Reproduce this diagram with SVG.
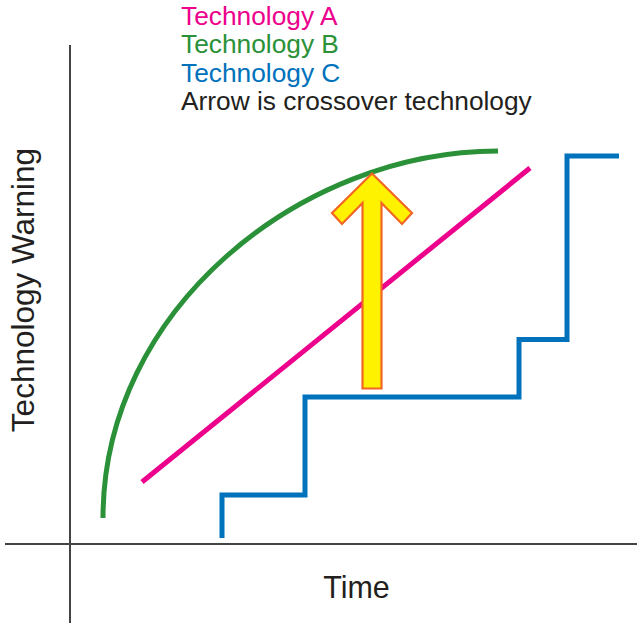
<svg xmlns="http://www.w3.org/2000/svg" width="637" height="623" viewBox="0 0 637 623">
<style>
.t{font-family:"Liberation Sans",Arial,sans-serif;}
.leg{font-size:26.3px;}
.ax{stroke:#444;stroke-width:2;fill:none;}
.crv{fill:none;stroke-width:5;}
</style>
<rect width="637" height="623" fill="#fff"/>
<g id="axes">
<line class="ax" x1="70" y1="45" x2="70" y2="623"/>
<line class="ax" x1="5" y1="544" x2="637" y2="544"/>
</g>
<g id="legend" class="t leg">
<text x="181" y="25" fill="#EC008C">Technology A</text>
<text x="181" y="53.3" fill="#2A9138">Technology B</text>
<text x="181" y="81.7" fill="#0072BC">Technology C</text>
<text x="181" y="110" fill="#231F20">Arrow is crossover technology</text>
</g>
<g id="labels" class="t" fill="#231F20">
<text x="356.5" y="597.7" font-size="30.5" text-anchor="middle">Time</text>
<text transform="translate(33.5,290) rotate(-90)" font-size="31.5" text-anchor="middle">Technology Warning</text>
</g>
<g id="connectors">
<path id="techB" class="crv" stroke="#2A9138" d="M103,518 C103,310 300,151 498,151"/>
<line id="techA" class="crv" stroke="#EC008C" x1="142" y1="482" x2="530" y2="168"/>
<polyline id="techC" class="crv" stroke="#0072BC" points="222,538 222,495 305,495 305,397 519,397 519,339.5 567,339.5 567,156 619,156"/>
</g>
<g id="crossover">
<polygon points="372,173.5 412,213 402,224 381.5,203 381.5,388.5 362.5,388.5 362.5,203 342,224 332,213" fill="#FFF200" stroke="#F26522" stroke-width="2.2" stroke-linejoin="miter"/>
</g>
</svg>
